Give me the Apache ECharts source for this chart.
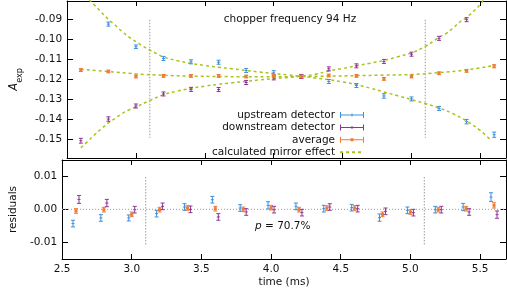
<!DOCTYPE html>
<html>
<head>
<meta charset="utf-8">
<script src="https://cdn.jsdelivr.net/npm/echarts@6/dist/echarts.min.js"></script>
<style>
html, body { margin: 0; padding: 0; background: #fff; }
#chart { width: 507px; height: 294px; }
</style>
</head>
<body>
<div id="chart"></div>
<script>
// measurement times (ms)
const times = [2.6, 2.8, 3.0, 3.2, 3.4, 3.6, 3.8, 4.0, 4.2, 4.4, 4.6, 4.8, 5.0, 5.2, 5.4, 5.6]
// asymmetry A_exp, null = outside the plotted range
const upstream = [null, -0.0924, -0.1037, -0.1095, -0.1112, -0.1114, -0.1155, -0.1167, -0.1185, -0.1210, -0.1230, -0.1282, -0.1297, -0.1344, -0.1410, -0.1475]
const downstream = [-0.1505, -0.1397, -0.1332, -0.1272, -0.1249, -0.1250, -0.1215, -0.1192, -0.1185, -0.1147, -0.1132, -0.1110, -0.1074, -0.0995, -0.0902, null]
const average = [-0.1153, -0.1160, -0.1185, -0.1182, -0.1182, -0.1182, -0.1185, -0.1182, -0.1185, -0.1180, -0.1182, -0.1197, -0.1185, -0.1169, -0.1157, -0.1134]
const errUp = [0.0010, 0.0010, 0.0009, 0.0010, 0.0010, 0.0010, 0.0010, 0.0011, 0.0010, 0.0010, 0.0010, 0.0011, 0.0010, 0.0010, 0.0011, 0.0013]
const errDown = [0.0012, 0.0011, 0.0010, 0.0010, 0.0010, 0.0010, 0.0010, 0.0010, 0.0010, 0.0010, 0.0010, 0.0010, 0.0010, 0.0010, 0.0010, 0.0011]
const errAvg = [0.0007, 0.0007, 0.0007, 0.0007, 0.0007, 0.0007, 0.0007, 0.0007, 0.0007, 0.0007, 0.0007, 0.0007, 0.0007, 0.0007, 0.0007, 0.0008]
// residuals
const resUp = [-0.0043, -0.0026, -0.0026, -0.0013, 0.0007, 0.0029, 0.0004, 0.0012, 0.0009, 0.0002, 0.0005, -0.0025, -0.0003, -0.0001, 0.0007, 0.0037]
const resAvg = [-0.0005, -0.0001, -0.0015, -0.0001, 0.0004, 0.0002, 0.0000, 0.0005, -0.0001, 0.0004, 0.0004, -0.0015, -0.0008, -0.0001, 0.0002, 0.0012]
const resDown = [0.0030, 0.0019, -0.0001, 0.0009, 0.0000, -0.0023, -0.0008, -0.0001, -0.0010, 0.0007, 0.0002, -0.0006, -0.0010, -0.0001, -0.0008, -0.0016]
// calculated mirror effect
const mirrorUpT = [2.66, 2.70, 2.75, 2.80, 2.85, 2.90, 2.95, 3.00, 3.05, 3.10, 3.15, 3.20, 3.30, 3.40, 3.50, 3.60, 3.70, 3.80, 3.90, 4.00, 4.10, 4.20, 4.30, 4.40, 4.50, 4.60, 4.70, 4.80, 4.90, 5.00, 5.10, 5.20, 5.30, 5.40, 5.50, 5.58]
const mirrorUpV = [-0.0803, -0.0830, -0.0866, -0.0900, -0.0930, -0.0961, -0.0989, -0.1012, -0.1034, -0.1053, -0.1071, -0.1088, -0.1106, -0.1120, -0.1130, -0.1139, -0.1147, -0.1155, -0.1163, -0.1170, -0.1177, -0.1184, -0.1192, -0.1201, -0.1212, -0.1226, -0.1243, -0.1262, -0.1281, -0.1300, -0.1320, -0.1342, -0.1370, -0.1407, -0.1455, -0.1505]
const mirrorDownT = [2.60, 2.65, 2.70, 2.75, 2.80, 2.85, 2.90, 2.95, 3.00, 3.10, 3.20, 3.30, 3.40, 3.50, 3.60, 3.70, 3.80, 3.90, 4.00, 4.10, 4.20, 4.30, 4.40, 4.50, 4.60, 4.70, 4.80, 4.90, 5.00, 5.10, 5.20, 5.25, 5.30, 5.35, 5.40, 5.45, 5.50, 5.52]
const mirrorDownV = [-0.1540, -0.1508, -0.1475, -0.1445, -0.1416, -0.1393, -0.1369, -0.1351, -0.1337, -0.1305, -0.1276, -0.1258, -0.1244, -0.1233, -0.1224, -0.1216, -0.1209, -0.1202, -0.1196, -0.1190, -0.1183, -0.1174, -0.1158, -0.1145, -0.1132, -0.1119, -0.1105, -0.1087, -0.1067, -0.1035, -0.0990, -0.0972, -0.0945, -0.0914, -0.0890, -0.0860, -0.0826, -0.0805]
const mirrorAvgT = [2.6, 2.8, 3.0, 3.2, 3.4, 3.6, 3.8, 4.0, 4.2, 4.4, 4.6, 4.8, 5.0, 5.2, 5.4, 5.6]
const mirrorAvgV = [-0.1149, -0.1160, -0.1172, -0.1179, -0.1183, -0.1185, -0.1186, -0.1186, -0.1185, -0.1183, -0.1181, -0.1178, -0.1175, -0.1166, -0.1152, -0.1130]
// chopper edges (dotted verticals)
const chopperT = [3.1, 5.1]
const chopperTop = [-0.0903, -0.1490]
const chopperRes = [0.0098, -0.0108]

const colors = { up: '#3b8fde', down: '#8e3597', avg: '#f07b35', mirror: '#a9c31a' }
const font = 'DejaVu Sans'
const fs = 10.5

const pairs = (xs, ys) => xs.map((x, i) => [x, ys[i]])
const withErr = (vals, errs) => times.map((t, i) => [t, vals[i], errs[i]]).filter(d => d[1] !== null)

// error bar with caps, shift in pixels so the three series do not overlap
const errorBar = (shift, marker) => (params, api) => {
    const x = api.value(0), y = api.value(1), e = api.value(2)
    const c = api.coord([x, y])
    const hi = api.coord([x, y + e])
    const lo = api.coord([x, y - e])
    const cx = c[0] + shift
    const color = api.visual('color')
    const st = { stroke: color, lineWidth: 1, fill: null }
    const children = [
        { type: 'line', shape: { x1: cx, y1: hi[1], x2: cx, y2: lo[1] }, style: st },
        { type: 'line', shape: { x1: cx - 2, y1: hi[1], x2: cx + 2, y2: hi[1] }, style: st },
        { type: 'line', shape: { x1: cx - 2, y1: lo[1], x2: cx + 2, y2: lo[1] }, style: st }
    ]
    if (marker === 'square') {
        children.push({ type: 'rect', shape: { x: cx - 1.5, y: c[1] - 1.5, width: 3, height: 3 }, style: { fill: color } })
    } else {
        children.push({ type: 'line', shape: { x1: cx - 1.5, y1: c[1], x2: cx + 1.5, y2: c[1] }, style: st })
    }
    return { type: 'group', children }
}

const barSeries = (name, data, color, axis, shift, marker) => ({
    name, type: 'custom', data, xAxisIndex: axis, yAxisIndex: axis,
    encode: { x: 0, y: 1 }, clip: true, z: 3,
    itemStyle: { color },
    renderItem: errorBar(shift, marker)
})

const curve = (data) => ({
    name: 'calculated mirror effect', type: 'line', data, xAxisIndex: 0, yAxisIndex: 0,
    smooth: true, symbol: 'none', clip: true, z: 2,
    lineStyle: { color: colors.mirror, width: 1.5, type: [3, 3] },
    // opacity 0 only hides the legend's dot, the line keeps its own style
    itemStyle: { color: colors.mirror, opacity: 0 }
})

const guide = (data, axis, dash) => ({
    type: 'line', data, xAxisIndex: axis, yAxisIndex: axis, symbol: 'none', silent: true, z: 1,
    lineStyle: { color: '#aaa', width: 1.2, type: dash }
})

const xMin = 2.5, xMax = 5.686
const xAxis = (gridIndex, position, labels) => ({
    type: 'value', gridIndex, position, min: xMin, max: xMax, interval: 0.5,
    axisLine: { onZero: false, lineStyle: { color: '#000', width: 1 } },
    axisTick: { inside: true, length: 5, lineStyle: { color: '#000' } },
    splitLine: { show: false },
    axisLabel: { show: labels, margin: 5, showMaxLabel: false, fontFamily: font, fontSize: fs, color: '#111', formatter: v => v.toFixed(1) }
})
const yAxis = (gridIndex, position, min, max, split, labels) => ({
    type: 'value', gridIndex, position, min, max, splitNumber: split,
    axisLine: { onZero: false, lineStyle: { color: '#000', width: 1 } },
    axisTick: { inside: true, length: 6, lineStyle: { color: '#000' } },
    splitLine: { show: false },
    axisLabel: { show: labels, margin: 5, showMinLabel: false, showMaxLabel: false, fontFamily: font, fontSize: fs, color: '#111', formatter: v => v.toFixed(2) }
})

const barIcon = 'path://M0,1h1v6h-1zM0,3.5h24v1h-24zM23,1h1v6h-1zM11.5,2.5h1v3h-1z'
const avgIcon = 'path://M0,1h1v6h-1zM0,3.5h24v1h-24zM23,1h1v6h-1zM10.5,2.5h3v3h-3z'

const chart = echarts.init(document.getElementById('chart'), null, { renderer: 'canvas' })

const topX = xAxis(0, 'bottom', false)
const resX = xAxis(1, 'bottom', true)
resX.name = 'time (ms)'
resX.nameLocation = 'middle'
resX.nameGap = 18
resX.nameTextStyle = { fontFamily: font, fontSize: fs, color: '#111' }

const topY = yAxis(0, 'left', -0.1591, -0.0809, 8, true)
topY.name = '{a|A}{s|exp}'
topY.nameLocation = 'middle'
topY.nameGap = 35
topY.nameTextStyle = {
    rich: {
        a: { fontFamily: font, fontSize: 11.5, fontStyle: 'italic', color: '#111', lineHeight: 16, verticalAlign: 'top' },
        s: { fontFamily: font, fontSize: 8, color: '#111', lineHeight: 16, verticalAlign: 'bottom' }
    }
}
const resY = yAxis(1, 'left', -0.0150, 0.0149, 3, true)
resY.name = 'residuals'
resY.nameLocation = 'middle'
resY.nameGap = 33
resY.nameTextStyle = { fontFamily: font, fontSize: fs, color: '#111' }

const option = {
    animation: false,
    backgroundColor: '#fff',
    grid: [
        { left: 60, right: 1, top: 1, height: 157 },
        { left: 60, right: 1, top: 160, height: 99 }
    ],
    xAxis: [topX, resX, xAxis(0, 'top', false), xAxis(1, 'top', false)],
    yAxis: [topY, resY, yAxis(0, 'right', -0.1591, -0.0809, 8, false), yAxis(1, 'right', -0.0150, 0.0149, 3, false)],
    legend: {
        orient: 'vertical', right: 137, top: 104, align: 'right',
        itemWidth: 24, itemHeight: 8, itemGap: 0.4,
        textStyle: { fontFamily: font, fontSize: fs, color: '#111', lineHeight: 12 },
        data: [
            { name: 'upstream detector', icon: barIcon },
            { name: 'downstream detector', icon: barIcon },
            { name: 'average', icon: avgIcon },
            { name: 'calculated mirror effect' }
        ]
    },
    graphic: [
        { type: 'text', x: 290, y: 19, style: { text: 'chopper frequency 94 Hz', font: fs + 'px "DejaVu Sans"', fill: '#111', align: 'center', verticalAlign: 'middle' } },
        {
            type: 'text', x: 255, y: 226,
            style: {
                text: '{i|p} = 70.7%', font: fs + 'px "DejaVu Sans"', fill: '#111', verticalAlign: 'middle',
                rich: { i: { fontFamily: font, fontSize: fs, fontStyle: 'italic', fill: '#111' } }
            }
        }
    ],
    series: [
        guide(pairs([chopperT[0], chopperT[0]], chopperTop), 0, [1.5, 1.5]),
        guide(pairs([chopperT[1], chopperT[1]], chopperTop), 0, [1.5, 1.5]),
        guide(pairs([chopperT[0], chopperT[0]], chopperRes), 1, [1.5, 1.5]),
        guide(pairs([chopperT[1], chopperT[1]], chopperRes), 1, [1.5, 1.5]),
        guide([[xMin, 0], [xMax, 0]], 1, [1, 2]),
        curve(pairs(mirrorUpT, mirrorUpV)),
        curve(pairs(mirrorDownT, mirrorDownV)),
        curve(pairs(mirrorAvgT, mirrorAvgV)),
        barSeries('upstream detector', withErr(upstream, errUp), colors.up, 0, 0, 'plus'),
        barSeries('downstream detector', withErr(downstream, errDown), colors.down, 0, 0, 'plus'),
        barSeries('average', withErr(average, errAvg), colors.avg, 0, 0, 'square'),
        barSeries('upstream detector', withErr(resUp, errUp), colors.up, 1, -3, 'plus'),
        barSeries('average', withErr(resAvg, errAvg), colors.avg, 1, 0, 'square'),
        barSeries('downstream detector', withErr(resDown, errDown), colors.down, 1, 3, 'plus')
    ]
}
chart.setOption(option)
</script>
</body>
</html>
